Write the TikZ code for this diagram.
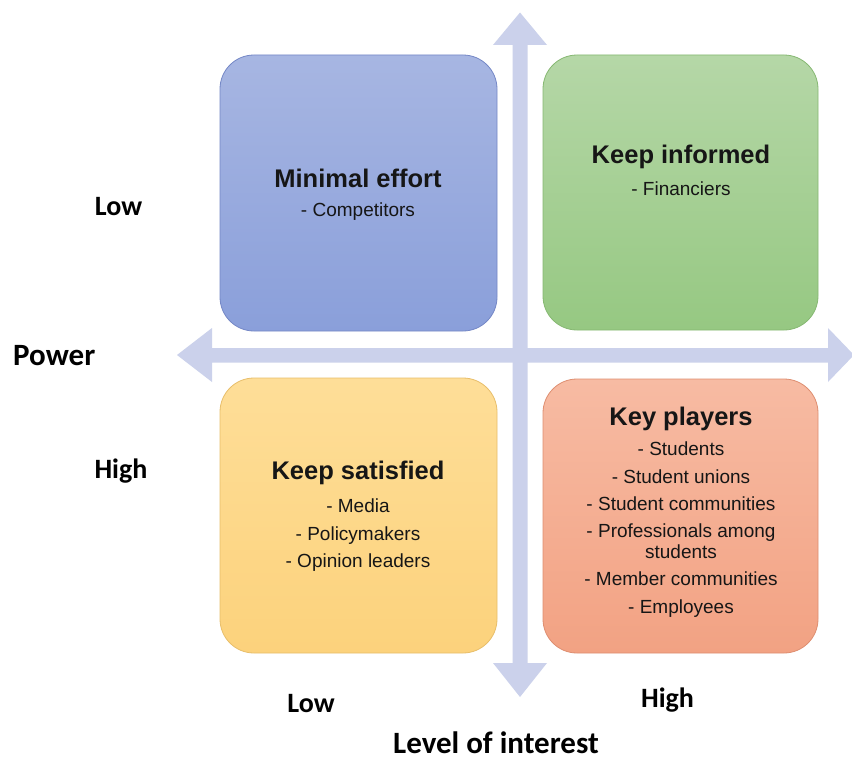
\documentclass[tikz,border=0pt]{standalone}
\usepackage{fontspec}
\setmainfont{Liberation Sans}
\newfontfamily\calfont{Carlito}
\definecolor{arrowc}{HTML}{CBD1EB}
\definecolor{blueT}{HTML}{A7B6E2}
\definecolor{blueB}{HTML}{8A9FDA}
\definecolor{blueD}{HTML}{7487C6}
\definecolor{greenT}{HTML}{B5D7A7}
\definecolor{greenB}{HTML}{96C882}
\definecolor{greenD}{HTML}{86B872}
\definecolor{yelT}{HTML}{FEDE98}
\definecolor{yelB}{HTML}{FCD27C}
\definecolor{yelD}{HTML}{E8BE6A}
\definecolor{orT}{HTML}{F7BBA3}
\definecolor{orB}{HTML}{F2A283}
\definecolor{orD}{HTML}{DE8E70}
\definecolor{txt}{HTML}{161616}
\tikzset{
  quad/.style={draw=#1D, line width=0.8pt, rounded corners=34pt, top color=#1T, bottom color=#1B},
  ttl/.style={anchor=base, inner sep=0pt, text=txt, font=\fontsize{25.5}{30}\selectfont\bfseries},
  itm/.style={anchor=base, inner sep=0pt, text=txt, font=\fontsize{19}{22}\selectfont},
  axl/.style={anchor=base, inner sep=0pt, text=black, font=\calfont\bfseries\fontsize{28}{32}\selectfont},
  axt/.style={anchor=base, inner sep=0pt, text=black, font=\calfont\bfseries\fontsize{31}{36}\selectfont},
}
\begin{document}
\begin{tikzpicture}[x=1pt,y=-1pt]
\useasboundingbox (0,0) rectangle (852,760);
\fill[white] (0,0) rectangle (852,760);
% boxes
\draw[quad=blue]   (220,55)  rectangle (497,331);
\draw[quad=green]  (543,55)  rectangle (818,330);
\draw[quad=yel]    (220,378) rectangle (497,653);
\draw[quad=or]     (543,379) rectangle (818,653);
% axes arrows
\fill[arrowc] (512.5,45) -- (493,45) -- (520,12.5) -- (547,45) -- (527.5,45)
  -- (527.5,663) -- (547,663) -- (520,697) -- (493,663) -- (512.5,663) -- cycle;
\fill[arrowc] (212,348) -- (212,328) -- (177,355) -- (212,382) -- (212,362.5)
  -- (828,362.5) -- (828,382) -- (854,355) -- (828,328) -- (828,348) -- cycle;
% quadrant texts
\node[ttl] (t1) at (358,187) {Minimal effort};
\node[itm] (t1a) at (358,216) {- Competitors};
\node[ttl] (t2) at (681,163) {Keep informed};
\node[itm] (t2a) at (681,195) {- Financiers};
\node[ttl] (t3) at (358,479) {Keep satisfied};
\node[itm] (t3a) at (358,512) {- Media};
\node[itm] (t3b) at (358,540) {- Policymakers};
\node[itm] (t3c) at (358,567) {- Opinion leaders};
\node[ttl] (t4) at (681,425) {Key players};
\node[itm] (t4a) at (681,455) {- Students};
\node[itm] (t4b) at (681,483) {- Student unions};
\node[itm] (t4c) at (681,510) {- Student communities};
\node[itm] (t4d) at (681,537) {- Professionals among};
\node[itm] (t4e) at (681,558) {students};
\node[itm] (t4f) at (681,585) {- Member communities};
\node[itm] (t4g) at (681,613) {- Employees};
% axis labels
\node[axl] (lowL) at (118.5,215) {Low};
\node[axl] (highL) at (121,478) {High};
\node[axt, anchor=base west] (pw) at (13,365) {Power};
\node[axl] (lowB) at (311,712) {Low};
\node[axl] (highB) at (667.5,707) {High};
\node[axt] (loi) at (496,753) {Level of interest};
\end{tikzpicture}
\end{document}
